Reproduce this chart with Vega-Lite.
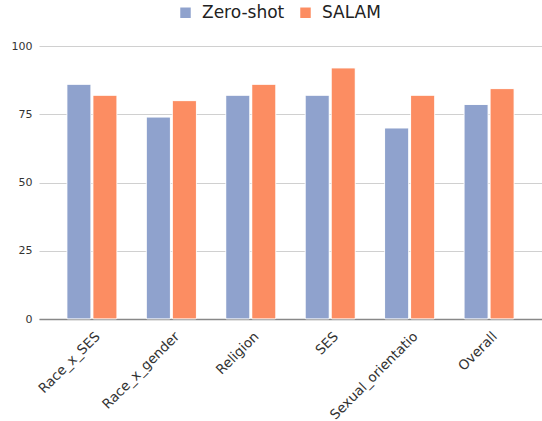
{
  "$schema": "https://vega.github.io/schema/vega-lite/v6.json",
  "width": 503,
  "height": 273,
  "autosize": {"type": "none"},
  "padding": {"left": 39, "top": 46, "right": 0, "bottom": 102},
  "background": "white",
  "config": {
    "font": "DejaVu Sans",
    "view": {"stroke": null},
    "axis": {"labelColor": "#333", "labelFont": "DejaVu Sans"}
  },
  "data": {
    "values": [
      {"category": "Race_x_SES", "method": "Zero-shot", "value": 86},
      {"category": "Race_x_SES", "method": "SALAM", "value": 82},
      {"category": "Race_x_gender", "method": "Zero-shot", "value": 74},
      {"category": "Race_x_gender", "method": "SALAM", "value": 80},
      {"category": "Religion", "method": "Zero-shot", "value": 82},
      {"category": "Religion", "method": "SALAM", "value": 86},
      {"category": "SES", "method": "Zero-shot", "value": 82},
      {"category": "SES", "method": "SALAM", "value": 92},
      {"category": "Sexual_orientatio", "method": "Zero-shot", "value": 70},
      {"category": "Sexual_orientatio", "method": "SALAM", "value": 82},
      {"category": "Overall", "method": "Zero-shot", "value": 78.6},
      {"category": "Overall", "method": "SALAM", "value": 84.4}
    ]
  },
  "mark": {"type": "bar", "stroke": "white", "strokeWidth": 1, "strokeOpacity": 0.7, "cornerRadius": 1},
  "encoding": {
    "x": {
      "field": "category",
      "type": "nominal",
      "sort": null,
      "scale": {"paddingInner": 0.368, "paddingOuter": 0.35},
      "axis": {
        "title": null,
        "labelAngle": -45,
        "labelFontSize": 13.5,
        "labelAlign": "right",
        "labelBaseline": "middle",
        "labelPadding": 15,
        "labelOffset": 6,
        "ticks": false,
        "domainColor": "#888",
        "domainWidth": 1.5,
        "labelLimit": 200
      }
    },
    "xOffset": {
      "field": "method",
      "type": "nominal",
      "sort": ["Zero-shot", "SALAM"],
      "scale": {"paddingInner": 0.07}
    },
    "y": {
      "field": "value",
      "type": "quantitative",
      "scale": {"domain": [0, 100]},
      "axis": {
        "title": null,
        "values": [0, 25, 50, 75, 100],
        "labelFontSize": 11,
        "labelPadding": 7,
        "ticks": false,
        "domain": false,
        "gridColor": "#d0d0d0",
        "gridWidth": 1
      }
    },
    "color": {
      "field": "method",
      "type": "nominal",
      "sort": ["Zero-shot", "SALAM"],
      "scale": {"domain": ["Zero-shot", "SALAM"], "range": ["#8fa2cd", "#fc8d62"]},
      "legend": {
        "title": null,
        "orient": "none",
        "direction": "horizontal",
        "legendX": 138,
        "legendY": -42,
        "symbolType": "square",
        "symbolSize": 110,
        "symbolStrokeWidth": 0,
        "labelFontSize": 17,
        "labelColor": "#222",
        "columnPadding": 12,
        "labelOffset": 8
      }
    }
  }
}
